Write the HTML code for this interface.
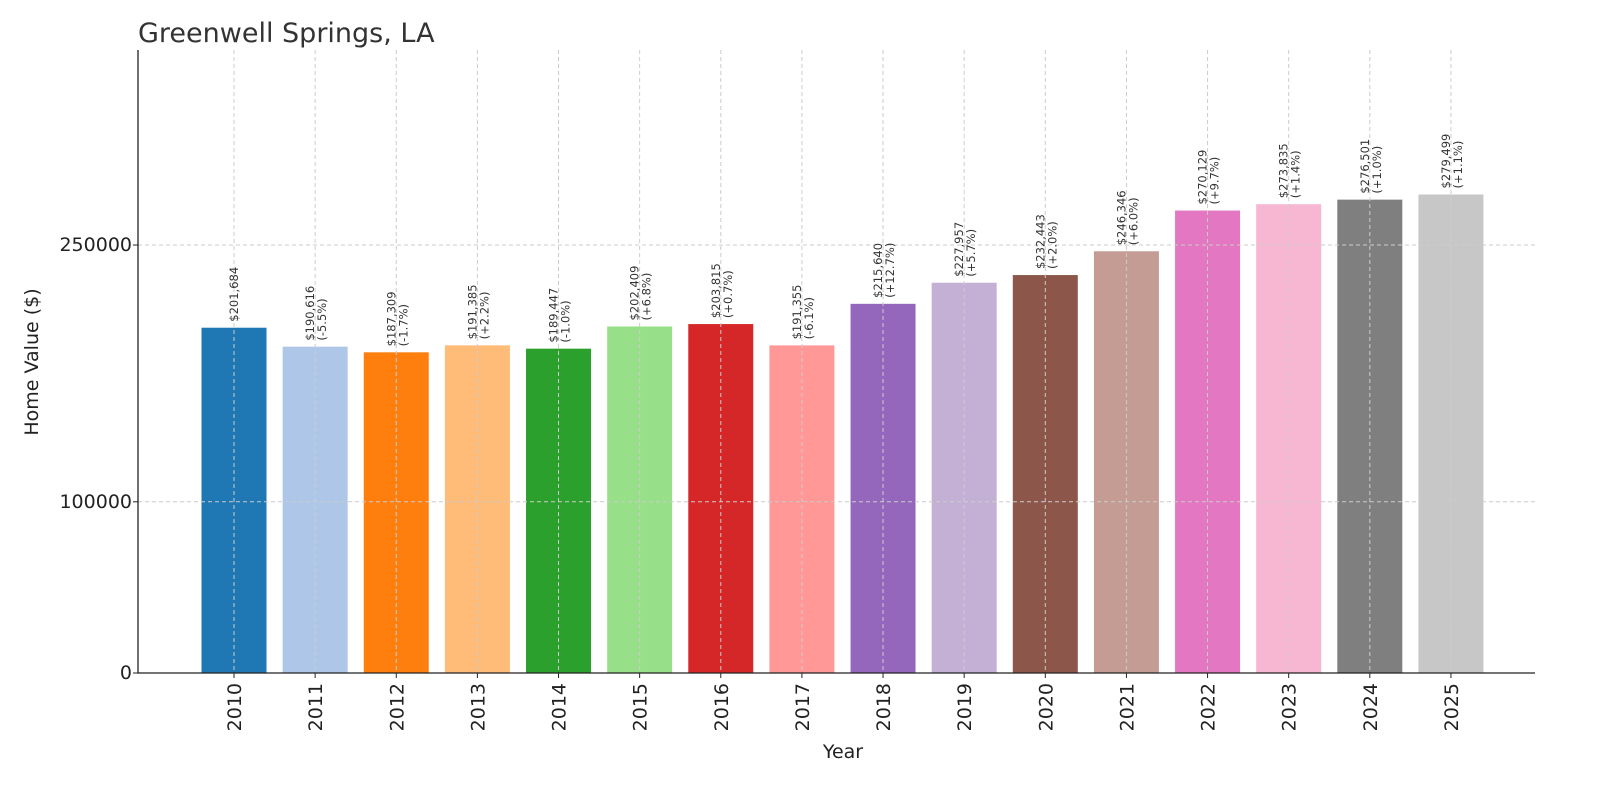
<!DOCTYPE html>
<html><head><meta charset="utf-8"><style>
body{margin:0;background:#fff;}
svg{display:block;font-family:"DejaVu Sans","Liberation Sans",sans-serif;}
</style></head><body>
<svg id="chart" width="1600" height="800">
<text x="138" y="42" font-size="27" fill="#333">Greenwell Springs, LA</text>
<g id="grid"></g><g id="bars"></g><g id="gridtop"></g><g id="labels"></g><g id="axes"></g>
<text transform="translate(38,362) rotate(-90)" text-anchor="middle" font-size="19" fill="#222">Home Value ($)</text>
<text x="843" y="758" text-anchor="middle" font-size="19" fill="#222">Year</text>
</svg>
<script>
const years=["2010","2011","2012","2013","2014","2015","2016","2017","2018","2019","2020","2021","2022","2023","2024","2025"];
const values=[201684,190616,187309,191385,189447,202409,203815,191355,215640,227957,232443,246346,270129,273835,276501,279499];
const changes=["","-5.5%","-1.7%","+2.2%","-1.0%","+6.8%","+0.7%","-6.1%","+12.7%","+5.7%","+2.0%","+6.0%","+9.7%","+1.4%","+1.0%","+1.1%"];
const yTicks=[0,100000,250000];
const colors=["#1f77b4","#aec7e8","#ff7f0e","#ffbb78","#2ca02c","#98df8a","#d62728","#ff9896","#9467bd","#c5b0d5","#8c564b","#c49c94","#e377c2","#f7b6d2","#7f7f7f","#c7c7c7"];
(function(){
const NS="http://www.w3.org/2000/svg";
const y0=673, pxPer=1.712/1000, x0=234, step=81.13, bw=65, pL=138, pR=1535, pT=50;
const ys=v=>y0-v*pxPer, xs=i=>x0+i*step;
function mk(t,a,p){const e=document.createElementNS(NS,t);for(const k in a)e.setAttribute(k,a[k]);p.appendChild(e);return e;}
const B=document.getElementById('bars'),GT=document.getElementById('gridtop'),L=document.getElementById('labels'),A=document.getElementById('axes');
yTicks.forEach(t=>{
 if(t>0){const g=mk('line',{x1:pL,x2:pR,y1:ys(t),y2:ys(t),stroke:'#ccc','stroke-dasharray':'4,3'},GT);
 
 }
 const tx=mk('text',{x:pL-6,y:ys(t)+6,'text-anchor':'end','font-size':19,fill:'#222'},A);tx.textContent=t;
 
 
});
years.forEach((yr,i)=>{
 const cx=xs(i),v=values[i];
 const r=mk('rect',{x:cx-bw/2,y:ys(v),width:bw,height:y0-ys(v),fill:colors[i]},B);
 
 
 const g=mk('line',{x1:cx,x2:cx,y1:pT,y2:y0,stroke:'#ccc','stroke-dasharray':'4,3'},GT);
 
 
 const by=ys(v)-6;
 const t=mk('text',{transform:`translate(${cx},${by}) rotate(-90)`,'font-size':11.5,fill:'#333'},L);
 
 
 const s='$'+v.toLocaleString('en-US');
 if(changes[i]){
  mk('tspan',{x:0,y:-1},t).textContent=s;
  mk('tspan',{x:0,y:11},t).textContent='('+changes[i]+')';
 }else{mk('tspan',{x:0,y:4},t).textContent=s;}
 const xl=mk('text',{transform:`translate(${cx+7},${y0+10}) rotate(-90)`,'text-anchor':'end','font-size':19,fill:'#222'},A);
 xl.textContent=yr;
 
 
 mk('line',{x1:cx,x2:cx,y1:y0,y2:y0+5,stroke:'#222'},A);
});
const ax=mk('path',{d:`M${pL},${pT} V${y0} H${pR}`,fill:'none',stroke:'#222','stroke-width':1.3},A);


yTicks.forEach(t=>mk('line',{x1:pL-5,x2:pL,y1:ys(t),y2:ys(t),stroke:'#222'},A));
})();
</script>
</body></html>
